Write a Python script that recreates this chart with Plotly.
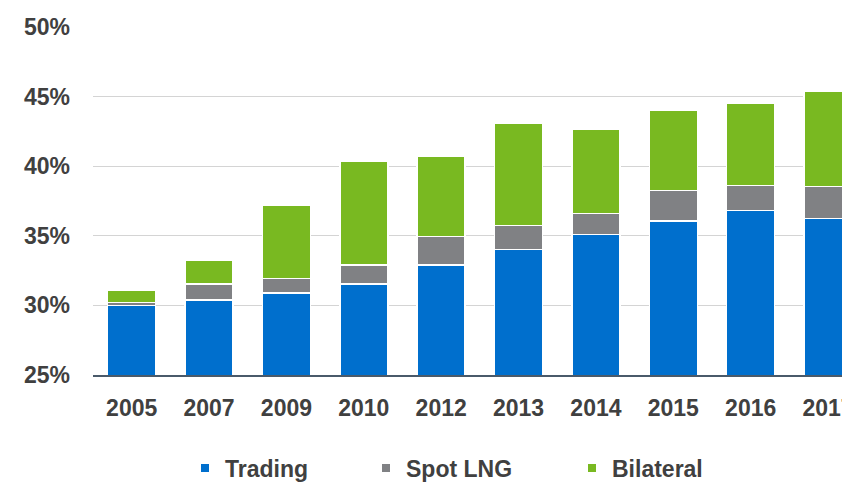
import plotly.graph_objects as go

years = ["2005", "2007", "2009", "2010", "2012", "2013", "2014", "2015", "2016", "2017"]
trading = [30.0, 30.4, 30.9, 31.55, 32.9, 34.0, 35.1, 36.05, 36.8, 36.25]
spot_lng = [0.2, 1.15, 1.05, 1.35, 2.05, 1.75, 1.5, 2.2, 1.8, 2.3]
bilateral = [0.9, 1.7, 5.25, 7.45, 5.8, 7.3, 6.05, 5.75, 5.95, 6.8]
y_ticks = [25, 30, 35, 40, 45, 50]
y_tick_labels = ["25%", "30%", "35%", "40%", "45%", "50%"]

series = [("Trading", trading, "#006FCD"),
          ("Spot LNG", spot_lng, "#808184"),
          ("Bilateral", bilateral, "#79B921")]

FONT = "Liberation Sans Narrow, Arial Narrow, Liberation Sans, Arial, sans-serif"
TXT = "#404040"
FS = 23

fig = go.Figure()
legends = ["legend", "legend2", "legend3"]
for (name, vals, col), lg in zip(series, legends):
    fig.add_trace(go.Bar(x=years, y=vals, name=name, marker_color=col,
                         marker_line_color="white", marker_line_width=1.5,
                         showlegend=False))
    # legend entry (small square marker)
    fig.add_trace(go.Scatter(x=[None], y=[None], mode="markers", name=name,
                             marker=dict(symbol="square", size=8, color=col),
                             legend=lg, showlegend=True))

W, H = 842, 482
leg_left = [185, 366, 572]
leg_common = dict(orientation="h", yref="container", y=1 - 468 / H, yanchor="middle",
                  xanchor="left", font=dict(family=FONT, size=FS, color=TXT, weight="bold"),
                  bgcolor="rgba(0,0,0,0)", itemsizing="trace")
fig.update_layout(
    width=W, height=H,
    margin=dict(l=93, r=0, t=27, b=107),
    barmode="stack", bargap=0.38,
    plot_bgcolor="white", paper_bgcolor="white",
    font=dict(family=FONT, size=FS, color=TXT),
    legend=dict(x=(leg_left[0] - 93) / (W - 93), **leg_common),
    legend2=dict(x=(leg_left[1] - 93) / (W - 93), **leg_common),
    legend3=dict(x=(leg_left[2] - 93) / (W - 93), **leg_common),
    xaxis=dict(type="category", range=[-0.5, 9.18], showgrid=False, automargin=False,
               showline=True, linecolor="#4A5A6A", linewidth=2,
               ticks="", ticklabelstandoff=11,
               tickfont=dict(family=FONT, size=FS, color=TXT, weight="bold")),
    yaxis=dict(range=[25, 50], tickvals=y_ticks, ticktext=y_tick_labels, automargin=False,
               showgrid=True, gridcolor="#D4D4D4", gridwidth=1.2,
               zeroline=False, showline=False, ticks="", ticklabelstandoff=22,
               tickfont=dict(family=FONT, size=FS, color=TXT, weight="bold")),
)

fig.write_html("out.html", config={"displayModeBar": False},
               post_script="document.body.style.margin='0';")
